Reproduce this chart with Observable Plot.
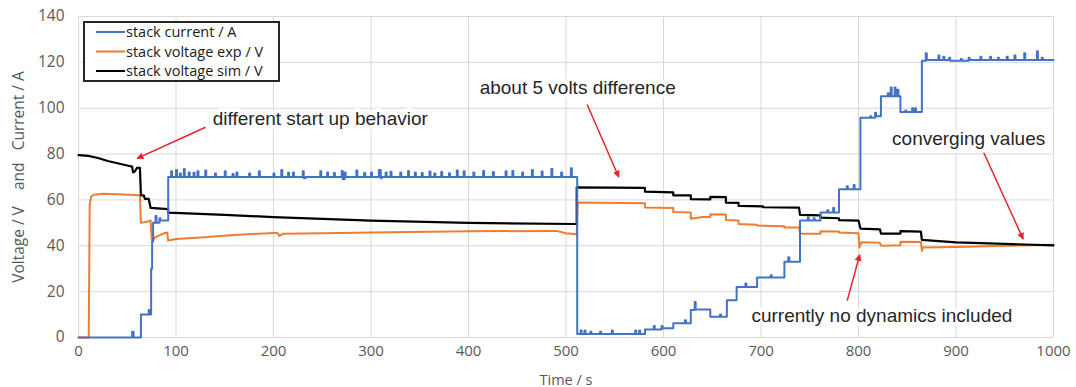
<!DOCTYPE html>
<html>
<head>
<meta charset="utf-8">
<script src="https://cdn.jsdelivr.net/npm/d3@7"></script>
<script src="https://cdn.jsdelivr.net/npm/@observablehq/plot@0.6"></script>
<style>
  html, body { margin: 0; padding: 0; background: #fff; }
  #wrap { position: relative; width: 1076px; height: 387px; }
  #legend { position: absolute; left: 83px; top: 21px; }
</style>
</head>
<body>
<div id="wrap"></div>
<script>
// ---------- tick labels ----------
const xTicks = [0, 100, 200, 300, 400, 500, 600, 700, 800, 900, 1000];
const yTicks = [0, 20, 40, 60, 80, 100, 120, 140];

// ---------- series (time s, value) ----------
const stackCurrent = [
  [0,0],[55,2.5],[56.5,0],[64,10],[72,12],[73,10],[74.5,30],[75.5,42],[76.5,50],[79,53],[80,50],[83,52],[84,51],
  [92,70],[95,72.5],[96,70],[100,73],[101,70],[104,71.5],[105,70],[108,73.5],[109,70],[113,72],[114,70],[118,71.8],[119,70],
  [122,72.5],[123,70],[130,72.8],[131,70],[140,71.5],[141,70],[150,72.5],[151,70],[158,71.3],[159,70],[162,72],[163,70],
  [175,71.5],[176,70],[185,72.5],[186,70],[200,71.5],[201,70],[208,73],[209,70],[215,71.8],[216,70],[220,72],[221,70],
  [230,72.5],[231,69.5],[233,70],[248,72.5],[249,70],[255,72],[256,70],[262,71.7],[263,70],[270,72.6],[271,69],[273,72],[274,70],
  [285,72.8],[286,70],[293,71.7],[294,70],[300,72],[301,70],[308,73],[310,69.5],[311,70],[315,72],[316,70],[320,72.3],[321,70],
  [330,72],[331,70],[338,72.6],[339,70],[345,72],[346,70],[352,71.7],[353,70],[360,72.4],[361,70],[365,71.5],[366,70],
  [372,72.2],[373,70],[380,71.6],[381,70],[388,72.8],[389,70],[395,72.5],[396,70],[405,72],[406,70],[415,72.6],[416,70],
  [425,72.2],[426,70],[438,72.5],[439,70],[445,72.6],[446,70],[455,72],[456,70],[465,73],[466,70],[475,72.4],[476,70],
  [485,73.5],[486,70],[495,72],[496,70],[505,73.8],[506,70],
  [511.5,1.5],[515,3],[516,1.5],[519,3],[520,1.5],[525,2.5],[526,1.5],[535,2.5],[536,1.5],[547,3],[548,1.5],[571,3],[572,1.5],
  [575,3],[576,1.5],[581,3.5],[590,5],[591,3.5],[598,5],[599,4],[610,6.2],[622,7.5],[623,6.2],[628,12],[632,15.5],[633,12.2],
  [648,9],[658,10],[659,9],[665,16.2],[675,22],[684,23.5],[685,22],[696,26.2],[710,27.2],[711,26.2],[724,33],[728,35],[729,33],
  [740,51],[748,52.5],[749,51],[754,52],[755,51],[761,54.5],[768,55.5],[769,54.5],[774,56.5],[775,54.5],
  [780,64.7],[788,66],[789,64.7],[795,66.5],[796,64.7],[802,95.8],[812,96.5],[813,95.8],[817,98],[818,96.5],
  [823,105.2],[830,106.5],[831,105.2],[833,109],[834,105.2],[837,109],[838,105.2],[840,108],[841,105.2],
  [843,98.4],[848,99],[849,98.4],[855,100],[856,98.4],[858,100],[859,98.4],
  [865,120.7],[869,124],[870,121],[882,123],[883,121],[887,122.5],[888,121],[893,122],[894,120.7],[905,121.5],[906,120.7],
  [913,122],[914,121],[925,122.5],[926,121],[935,122.5],[936,121],[943,122],[944,121],[952,122.5],[953,121],
  [960,123],[961,121],[970,124],[971,121],[983,124.8],[984,121],[988,122],[989,121],[1000,121]
];

const stackVoltageExp = [
  [0,0],[10.5,0],[11.5,58],[13,61.5],[16,62.3],[25,62.7],[40,62.5],[63,62],[64,50],[70,50.5],[74,51],[75,43],[76,42],
  [78,43.5],[83,44.5],[88,45.5],[91,45.8],[92,42.3],[100,43],[125,43.6],[160,44.7],[200,45.6],[204,45.6],[206,44.3],
  [210,45.3],[250,45.5],[300,45.8],[400,46.3],[490,46.5],[500,45.5],[510,45],[511,45],[512,58.9],[581,58.6],[581,56.7],
  [610,56.5],[610,54.7],[628,54.5],[628,51.8],[640,52.6],[648,52.6],[648,53.8],[664,53.6],[664,51.2],[677,51],[677,49.5],
  [696,49.2],[696,48.8],[724,48.5],[724,48],[739,48],[740,45.2],[761,45.2],[761,46.3],[780,46.2],[780,45.8],[800,45.5],
  [801,39.3],[803,41.5],[822,41.3],[823,40],[843,40.2],[843,41.8],[864,41.7],[865,37.8],[866,39.3],[900,39.5],[950,40],[1000,40.4]
];

const stackVoltageSim = [
  [0,79.5],[10,79.2],[20,78.3],[30,77],[40,76],[50,75],[55,74.5],[56,72],[58,72.5],[60,74],[63,74],[64,62],[67,62],
  [68,60.5],[72,60.5],[74,56.5],[92,56],[92,54.5],[150,53.5],[200,52.5],[300,51],[400,50],[508,49.5],[511,49.5],
  [511,65.5],[581,65.3],[581,63.6],[610,63.3],[610,62],[628,62],[628,60.3],[648,60.2],[648,61.3],[664,61.2],[664,58.8],
  [677,58.7],[677,57.4],[702,57.2],[702,56.8],[739,56.6],[740,53.5],[761,53.3],[761,52.3],[780,52],[780,51.2],[800,51],
  [802,47.5],[822,47.2],[823,45.3],[843,45.3],[843,46.4],[864,46.2],[865,42.6],[900,41.5],[950,40.8],[1000,40.2]
];

const seriesNames = ["stack current / A", "stack voltage exp / V", "stack voltage sim / V"];
const seriesColors = ["#4472C4", "#ED7D31", "#000000"];

// ---------- annotations ----------
const noteTexts = ["different start up behavior", "about 5 volts difference", "converging values", "currently no dynamics included"];
const noteX = [248, 512, 913, 824];
const noteY = [95.2, 108.9, 86.5, 9.6];
const arrowX1 = [130.3, 521.7, 928.5, 788.4];
const arrowY1 = [91.7, 101.6, 80.6, 16.1];
const arrowX2 = [60.2, 554.2, 968.9, 801.3];
const arrowY2 = [78.1, 69.9, 42.9, 36.1];

const toRows = (arr) => arr.map(([t, v]) => ({t, v}));
const notes = noteTexts.map((text, i) => ({text, x: noteX[i], y: noteY[i]}));
const arrows = arrowX1.map((x1, i) => ({x1, y1: arrowY1[i], x2: arrowX2[i], y2: arrowY2[i]}));

const chart = Plot.plot({
  width: 1076,
  height: 387,
  marginLeft: 78,
  marginRight: 23,
  marginTop: 16,
  marginBottom: 50,
  style: {fontFamily: "'Open Sans', sans-serif", fontSize: "15px", color: "#595959", background: "#fff", overflow: "visible"},
  x: {domain: [0, 1000]},
  y: {domain: [0, 140]},
  marks: [
    Plot.gridX(xTicks, {stroke: "#d9d9d9", strokeOpacity: 1, strokeWidth: 1}),
    Plot.gridY(yTicks, {stroke: "#d9d9d9", strokeOpacity: 1, strokeWidth: 1}),
    Plot.axisX({ticks: xTicks, tickSize: 0, tickPadding: 8, fill: "#595959", fontSize: 15, tickFormat: d3.format("d"), label: null}),
    Plot.axisX({ticks: [], tickSize: 0, fill: "#595959", fontSize: 14.5,
      label: "Time / s", labelAnchor: "center", labelArrow: "none", labelOffset: 47}),
    Plot.axisY({ticks: yTicks, tickSize: 0, tickPadding: 14, fill: "#595959", fontSize: 15.5, tickFormat: d3.format("d"),
      label: "Voltage / V\u00a0\u00a0\u00a0 and \u00a0\u00a0Current / A", labelAnchor: "center", labelArrow: "none", labelOffset: 66}),
    Plot.line(toRows(stackVoltageExp), {x: "t", y: "v", stroke: seriesColors[1], strokeWidth: 2}),
    Plot.line(toRows(stackVoltageSim), {x: "t", y: "v", stroke: seriesColors[2], strokeWidth: 2.2}),
    Plot.line(toRows(stackCurrent), {x: "t", y: "v", stroke: seriesColors[0], strokeWidth: 2, curve: "step-after"}),
    Plot.text(notes, {x: "x", y: "y", text: "text", fill: "#262626", stroke: "white", strokeWidth: 8,
      fontFamily: "'Liberation Sans', Arial, sans-serif", fontSize: 19, textAnchor: "middle"}),
    Plot.link(arrows, {x1: "x1", y1: "y1", x2: "x2", y2: "y2", stroke: "#E8232B", strokeWidth: 1.5, className: "note-arrow"})
  ]
});

// filled arrowheads for the annotation links
const svgNS = "http://www.w3.org/2000/svg";
const defs = document.createElementNS(svgNS, "defs");
const marker = document.createElementNS(svgNS, "marker");
marker.setAttribute("id", "redhead");
marker.setAttribute("viewBox", "0 0 10 10");
marker.setAttribute("refX", "9");
marker.setAttribute("refY", "5");
marker.setAttribute("markerWidth", "7");
marker.setAttribute("markerHeight", "7");
marker.setAttribute("markerUnits", "userSpaceOnUse");
marker.setAttribute("orient", "auto");
const mp = document.createElementNS(svgNS, "path");
mp.setAttribute("d", "M0,0L10,5L0,10z");
mp.setAttribute("fill", "#E8232B");
marker.appendChild(mp);
defs.appendChild(marker);
chart.insertBefore(defs, chart.firstChild);
chart.querySelectorAll(".note-arrow path, g.note-arrow path").forEach(p => p.setAttribute("marker-end", "url(#redhead)"));
chart.querySelectorAll("g[stroke='#E8232B'] path").forEach(p => p.setAttribute("marker-end", "url(#redhead)"));

const wrap = document.getElementById("wrap");
wrap.appendChild(chart);

// ---------- legend (overlay in the top-left of the plot area) ----------
const lg = d3.select(wrap).append("svg").attr("id", "legend").attr("width", 198).attr("height", 62);
lg.append("rect").attr("x", 1).attr("y", 1).attr("width", 195).attr("height", 59)
  .attr("fill", "white").attr("stroke", "#262626").attr("stroke-width", 2);
seriesNames.forEach((name, i) => {
  const cy = 11 + i * 19.5;
  lg.append("line").attr("x1", 13).attr("x2", 42).attr("y1", cy).attr("y2", cy)
    .attr("stroke", seriesColors[i]).attr("stroke-width", 2);
  lg.append("text").attr("x", 43).attr("y", cy).attr("dy", "0.35em")
    .attr("font-family", "'Open Sans', sans-serif").attr("font-size", 14.5).attr("fill", "#1a1a1a").text(name);
});
</script>
</body>
</html>
